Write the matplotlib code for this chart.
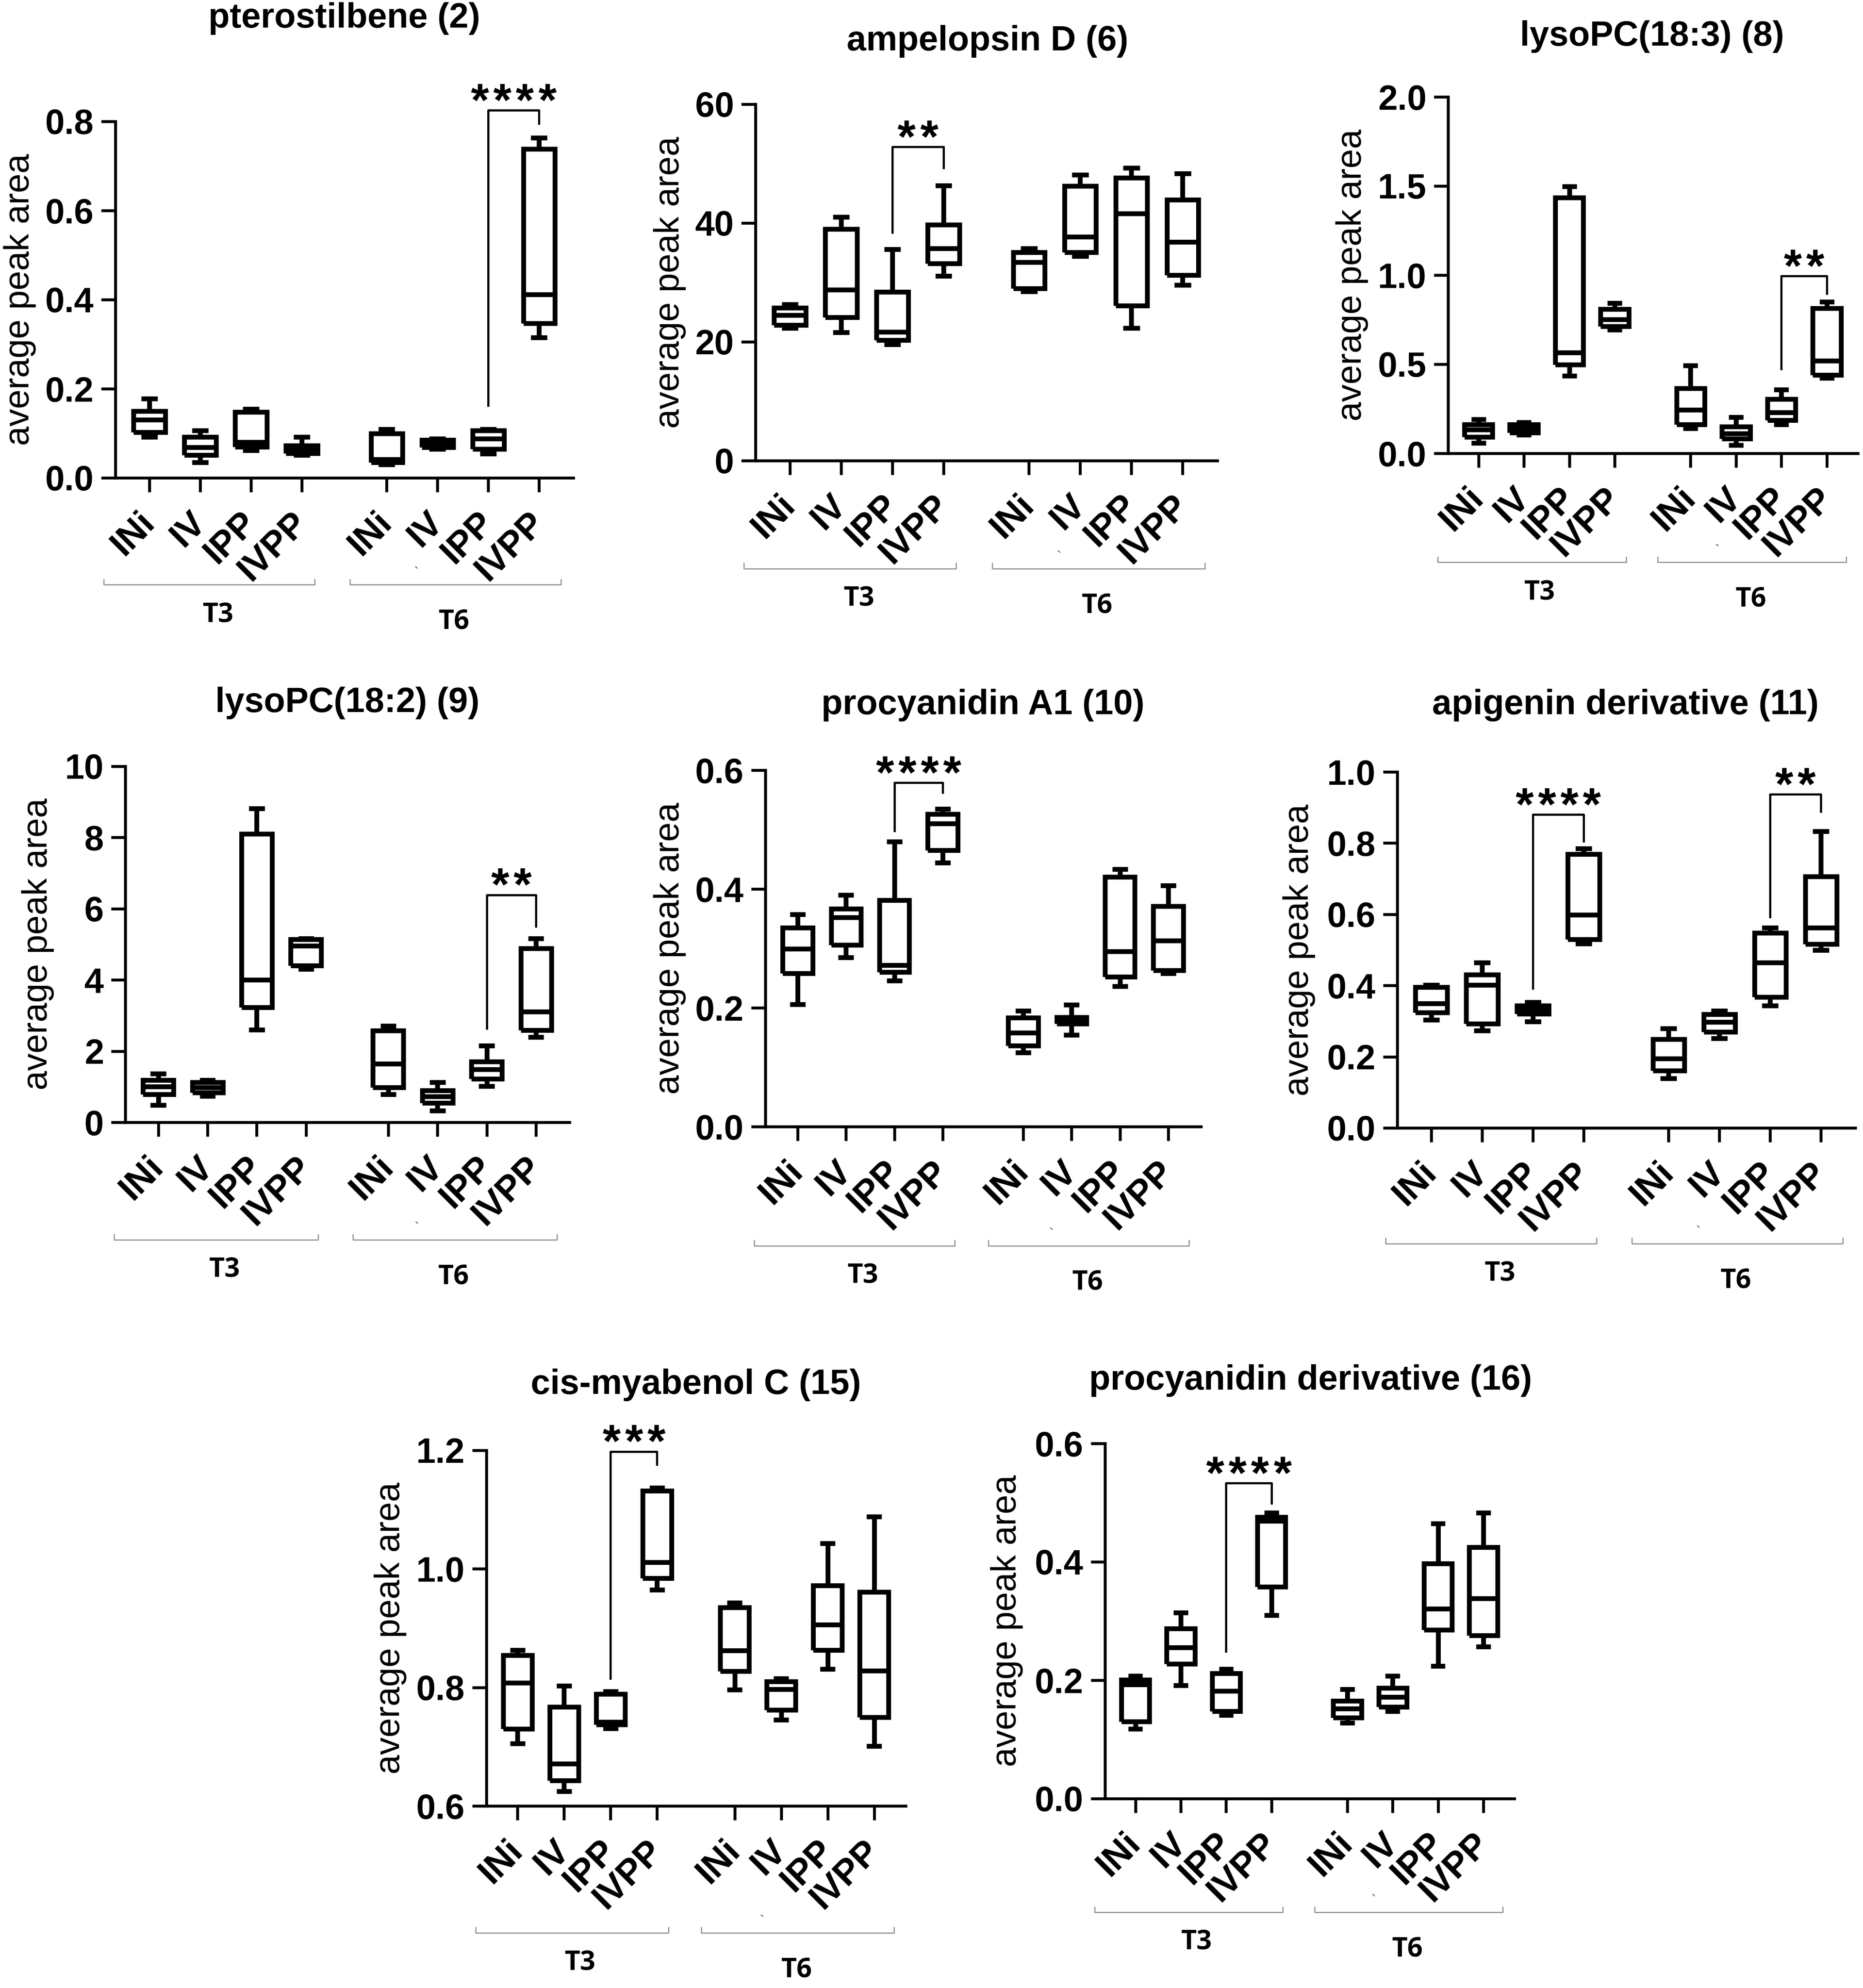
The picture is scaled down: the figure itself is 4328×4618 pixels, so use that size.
import matplotlib
matplotlib.use('Agg')
import matplotlib.pyplot as plt
import matplotlib.transforms as mtransforms

plt.rcParams['font.family'] = ['Liberation Sans', 'DejaVu Sans']

groups = ['INi', 'IV', 'IPP', 'IVPP', 'INi', 'IV', 'IPP', 'IVPP']
xpos = [0, 1, 2, 3, 4.67, 5.67, 6.67, 7.67]

# box stats (T3 x4 then T6 x4)
ptero_lo = [0.092, 0.035, 0.062, 0.051, 0.030, 0.065, 0.054, 0.315]
ptero_q1 = [0.102, 0.051, 0.070, 0.055, 0.035, 0.069, 0.065, 0.347]
ptero_med = [0.130, 0.069, 0.080, 0.065, 0.042, 0.077, 0.088, 0.412]
ptero_q3 = [0.150, 0.092, 0.148, 0.072, 0.100, 0.085, 0.106, 0.738]
ptero_hi = [0.178, 0.106, 0.155, 0.092, 0.109, 0.088, 0.109, 0.763]

ampD_lo = [22.3, 21.6, 19.6, 31.1, 28.5, 34.4, 22.3, 29.6]
ampD_q1 = [22.8, 24.1, 20.3, 33.2, 29.0, 35.1, 26.1, 31.2]
ampD_med = [24.5, 28.8, 21.7, 35.7, 33.4, 37.7, 41.6, 36.8]
ampD_q3 = [25.7, 39.0, 28.4, 39.7, 35.1, 46.2, 47.6, 43.9]
ampD_hi = [26.3, 41.0, 35.6, 46.3, 35.7, 48.1, 49.3, 48.3]

lpc183_lo = [0.058, 0.104, 0.435, 0.694, 0.139, 0.046, 0.162, 0.423]
lpc183_q1 = [0.092, 0.116, 0.497, 0.712, 0.162, 0.081, 0.185, 0.439]
lpc183_med = [0.134, 0.139, 0.566, 0.751, 0.243, 0.111, 0.230, 0.520]
lpc183_q3 = [0.162, 0.162, 1.434, 0.809, 0.365, 0.150, 0.305, 0.814]
lpc183_hi = [0.190, 0.173, 1.498, 0.844, 0.492, 0.203, 0.358, 0.851]

lpc182_lo = [0.48, 0.74, 2.60, 4.30, 0.78, 0.33, 1.02, 2.39]
lpc182_q1 = [0.78, 0.84, 3.23, 4.40, 0.98, 0.54, 1.22, 2.59]
lpc182_med = [1.00, 0.98, 4.00, 4.96, 1.65, 0.72, 1.49, 3.11]
lpc182_q3 = [1.19, 1.13, 8.10, 5.14, 2.57, 0.90, 1.70, 4.88]
lpc182_hi = [1.37, 1.19, 8.82, 5.16, 2.71, 1.13, 2.15, 5.16]

procA1_lo = [0.206, 0.285, 0.246, 0.444, 0.125, 0.154, 0.236, 0.258]
procA1_q1 = [0.258, 0.306, 0.260, 0.465, 0.136, 0.173, 0.252, 0.263]
procA1_med = [0.299, 0.352, 0.272, 0.510, 0.158, 0.179, 0.295, 0.313]
procA1_q3 = [0.335, 0.367, 0.381, 0.526, 0.183, 0.184, 0.420, 0.371]
procA1_hi = [0.357, 0.390, 0.480, 0.535, 0.195, 0.205, 0.433, 0.406]

apig_lo = [0.303, 0.273, 0.299, 0.518, 0.139, 0.252, 0.344, 0.500]
apig_q1 = [0.324, 0.293, 0.321, 0.530, 0.161, 0.270, 0.368, 0.516]
apig_med = [0.350, 0.401, 0.333, 0.599, 0.195, 0.297, 0.464, 0.562]
apig_q3 = [0.395, 0.431, 0.344, 0.769, 0.249, 0.319, 0.548, 0.706]
apig_hi = [0.401, 0.464, 0.353, 0.785, 0.279, 0.329, 0.562, 0.833]

myab_lo = [0.705, 0.625, 0.731, 0.965, 0.796, 0.745, 0.831, 0.701]
myab_q1 = [0.730, 0.643, 0.737, 0.984, 0.827, 0.762, 0.863, 0.750]
myab_med = [0.808, 0.671, 0.742, 1.011, 0.862, 0.797, 0.906, 0.828]
myab_q3 = [0.854, 0.767, 0.789, 1.132, 0.935, 0.810, 0.972, 0.961]
myab_hi = [0.863, 0.803, 0.793, 1.137, 0.943, 0.815, 1.043, 1.088]

procD_lo = [0.118, 0.191, 0.141, 0.310, 0.128, 0.148, 0.224, 0.257]
procD_q1 = [0.130, 0.228, 0.148, 0.358, 0.137, 0.155, 0.285, 0.276]
procD_med = [0.193, 0.255, 0.182, 0.469, 0.152, 0.172, 0.321, 0.338]
procD_q3 = [0.201, 0.287, 0.212, 0.476, 0.165, 0.187, 0.397, 0.425]
procD_hi = [0.207, 0.314, 0.219, 0.483, 0.185, 0.207, 0.465, 0.483]

titles = ['pterostilbene (2)', 'ampelopsin D (6)', 'lysoPC(18:3) (8)',
          'lysoPC(18:2) (9)', 'procyanidin A1 (10)', 'apigenin derivative (11)',
          'cis-myabenol C (15)', 'procyanidin derivative (16)']

# significance: (group a, group b, left foot, top, right foot, stars)
ptero_sig = [(6, 7, 0.162, 0.825, 0.795, '****')]
ampD_sig = [(2, 3, 38.4, 52.8, 49.3, '**')]
lpc183_sig = [(6, 7, 0.474, 0.994, 0.897, '**')]
lpc182_sig = [(6, 7, 2.63, 6.39, 5.5, '**')]
procA1_sig = [(2, 3, 0.498, 0.579, 0.562, '****')]
apig_sig = [(2, 3, 0.392, 0.880, 0.805, '****'), (6, 7, 0.593, 0.937, 0.889, '**')]
myab_sig = [(2, 3, 0.815, 1.198, 1.176, '***')]
procD_sig = [(2, 3, 0.249, 0.533, 0.499, '****')]

panels = [
    (ptero_lo, ptero_q1, ptero_med, ptero_q3, ptero_hi, ptero_sig, [0, 0.2, 0.4, 0.6, 0.8], '%.1f'),
    (ampD_lo, ampD_q1, ampD_med, ampD_q3, ampD_hi, ampD_sig, [0, 20, 40, 60], '%d'),
    (lpc183_lo, lpc183_q1, lpc183_med, lpc183_q3, lpc183_hi, lpc183_sig, [0, 0.5, 1.0, 1.5, 2.0], '%.1f'),
    (lpc182_lo, lpc182_q1, lpc182_med, lpc182_q3, lpc182_hi, lpc182_sig, [0, 2, 4, 6, 8, 10], '%d'),
    (procA1_lo, procA1_q1, procA1_med, procA1_q3, procA1_hi, procA1_sig, [0, 0.2, 0.4, 0.6], '%.1f'),
    (apig_lo, apig_q1, apig_med, apig_q3, apig_hi, apig_sig, [0, 0.2, 0.4, 0.6, 0.8, 1.0], '%.1f'),
    (myab_lo, myab_q1, myab_med, myab_q3, myab_hi, myab_sig, [0.6, 0.8, 1.0, 1.2], '%.1f'),
    (procD_lo, procD_q1, procD_med, procD_q3, procD_hi, procD_sig, [0, 0.2, 0.4, 0.6], '%.1f'),
]

# pixel layout: spine x, top y, bottom y, tick spacing, title x, title y, ylabel x, bracket y (axes frac)
layout = [
    (268, 282, 1110, 118, 800, 43, 46, -0.30),
    (1755, 242, 1070, 119, 2294, 96, 1556, -0.303),
    (3364, 225, 1053, 105.5, 3838, 85, 3141, -0.306),
    (291, 1780, 2607, 114.4, 807, 1633, 88, -0.33),
    (1778, 1789, 2617, 112.2, 2283, 1638, 1556, -0.334),
    (3246, 1793, 2620, 118, 3776, 1638, 3018, -0.325),
    (1130, 3369, 4195, 108, 1617, 3217, 907, -0.357),
    (2567, 3353, 4178, 105.4, 3045, 3207, 2339, -0.32),
]

W, H = 4328, 4618
fig = plt.figure(figsize=(W / 300, H / 300), dpi=300)

lw_box = 2.7
for p, lay, title in zip(panels, layout, titles):
    lo, q1, med, q3, hi, sig, yt, fmt = p
    sx, ty, by, sp, tx, tty, ylx, bry = lay
    ax = fig.add_axes([sx / W, 1 - by / H, 9.02 * sp / W, (by - ty) / H])
    stats = [dict(whislo=lo[i], q1=q1[i], med=med[i], q3=q3[i], whishi=hi[i]) for i in range(8)]
    lp = dict(color='black', linewidth=lw_box, solid_capstyle='butt', solid_joinstyle='miter')
    ax.bxp(stats, positions=xpos, widths=0.62, capwidths=0.32, showfliers=False,
           boxprops=lp, whiskerprops=lp, capprops=lp, medianprops=lp)
    ax.set_xlim(-0.67, 8.35)
    ax.set_ylim(yt[0], yt[-1])
    ax.spines['top'].set_visible(False)
    ax.spines['right'].set_visible(False)
    for s in ['left', 'bottom']:
        ax.spines[s].set_linewidth(1.6)
    ax.set_yticks(yt)
    ax.set_yticklabels([fmt % v for v in yt], fontsize=19.5, fontweight='bold')
    ax.set_xticks(xpos)
    ax.set_xticklabels(groups, rotation=45, ha='right', va='center', rotation_mode='anchor',
                       fontsize=20, fontweight='bold')
    ax.tick_params(axis='both', width=1.6, length=8)
    ax.tick_params(axis='x', pad=14)
    ax.tick_params(axis='y', pad=4)

    for a, b, yl, ytop, yr2, stars in sig:
        ax.plot([xpos[a], xpos[a], xpos[b], xpos[b]], [yl, ytop, ytop, yr2],
                color='black', lw=1.2, clip_on=False)
        n = len(stars)
        for k in range(n):
            # one star per text so the gaps match the reference spacing
            ax.annotate('*', ((xpos[a] + xpos[b]) / 2, ytop),
                        xytext=((k - (n - 1) / 2) * 12.5, -3),
                        textcoords='offset points', ha='center', va='baseline',
                        fontsize=26, fontweight='bold', annotation_clip=False)

    trans = mtransforms.blended_transform_factory(ax.transData, ax.transAxes)
    for x0, x1 in [(-0.9, 3.25), (3.95, 8.1)]:
        ax.plot([x0, x0, x1, x1], [bry + 0.015, bry, bry, bry + 0.015], transform=trans,
                color='#8a8a8a', lw=0.6, clip_on=False)
    ax.text(1.35, bry - 0.085, 'T3', transform=trans, ha='center', va='center',
            fontsize=15, fontweight='bold', family='Open Sans')
    ax.text(6.0, bry - 0.105, 'T6', transform=trans, ha='center', va='center',
            fontsize=15, fontweight='bold', family='Open Sans')
    ax.text(5.25, bry + 0.012, '`', transform=trans, ha='center', va='bottom',
            fontsize=8, color='#555555')

    fig.text(tx / W, 1 - tty / H, title, ha='center', va='center', fontsize=19.5, fontweight='bold')
    fig.text(ylx / W, 1 - (ty + by) / 2 / H, 'average peak area', rotation=90,
             ha='center', va='center', fontsize=19.5)

fig.savefig('out.png', dpi=300)
